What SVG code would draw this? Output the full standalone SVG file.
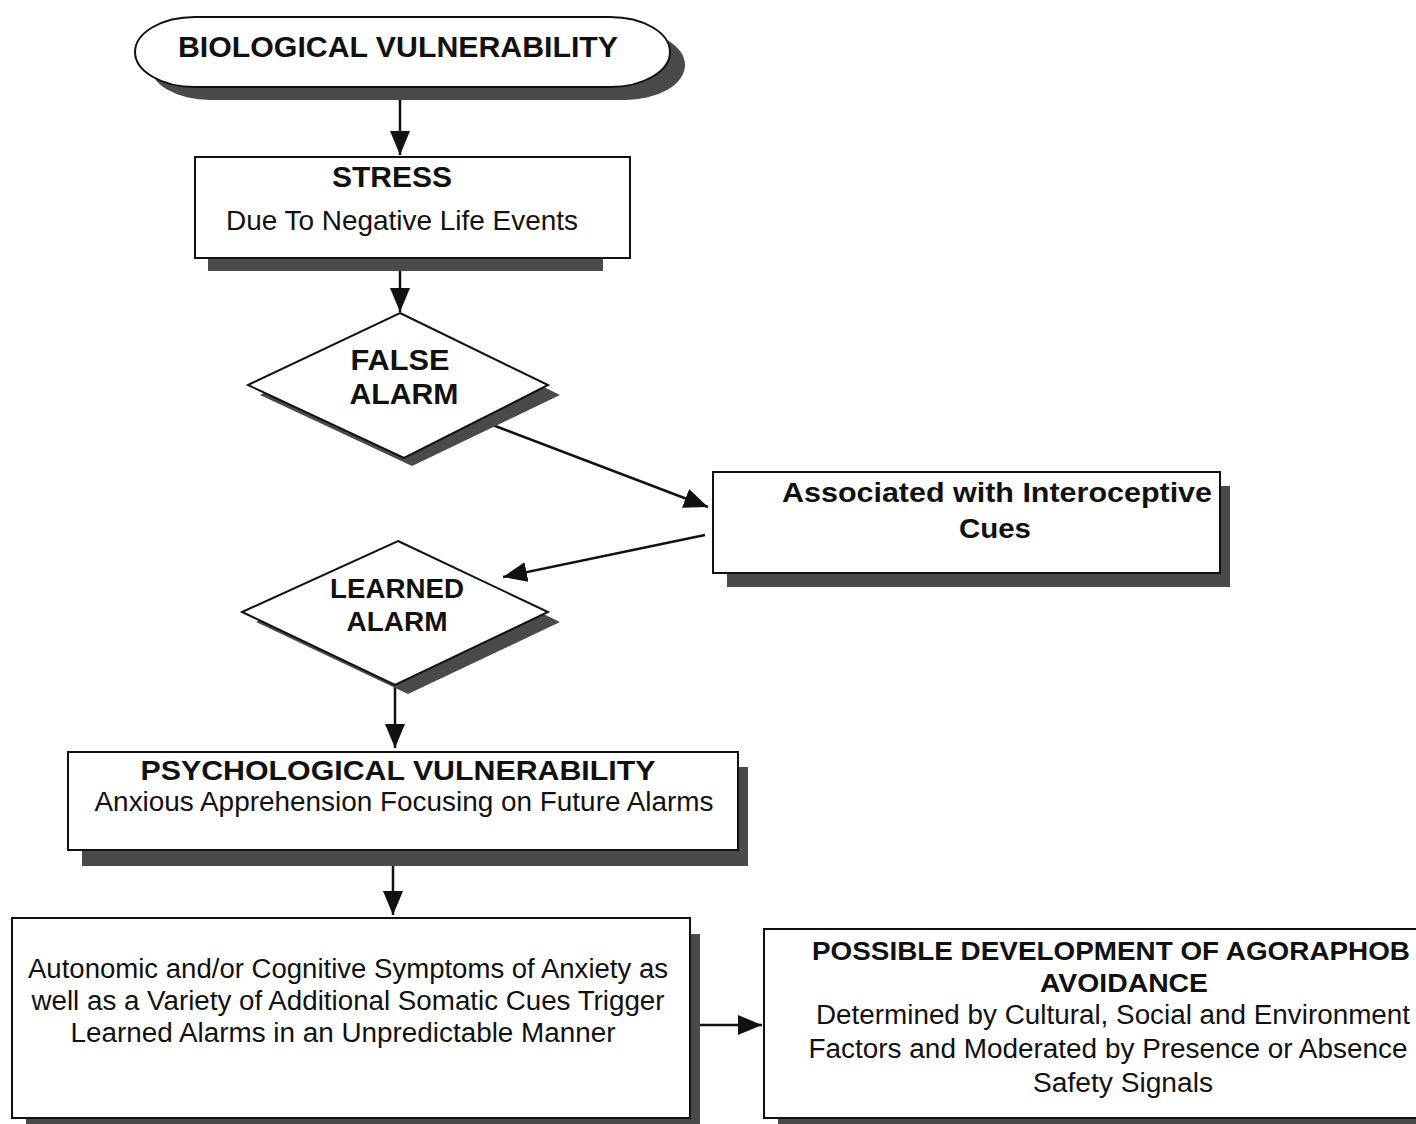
<svg xmlns="http://www.w3.org/2000/svg" width="1416" height="1124" viewBox="0 0 1416 1124">
<style>
.box{fill:#fff;stroke:#111;stroke-width:2}
.sh{fill:#4a4a4a}
.b{font-family:"Liberation Sans",Arial,sans-serif;font-weight:bold;fill:#111;text-anchor:middle}
.r{font-family:"Liberation Sans",Arial,sans-serif;fill:#111;text-anchor:middle}
.c{stroke:#111;stroke-width:2.5;fill:none}
</style>
<defs>
<marker id="ah" markerUnits="userSpaceOnUse" markerWidth="26" markerHeight="22" refX="24" refY="10" orient="auto"><path d="M0,0 L24,10 L0,20 z" fill="#111"/></marker>
</defs>
<rect width="1416" height="1124" fill="#fff"/>
<g id="connectors">
<line class="c" x1="400" y1="88" x2="400" y2="155" marker-end="url(#ah)"/>
<line class="c" x1="400" y1="258" x2="400" y2="312" marker-end="url(#ah)"/>
<line class="c" x1="490" y1="424" x2="708" y2="507" marker-end="url(#ah)"/>
<line class="c" x1="705" y1="535" x2="503" y2="577" marker-end="url(#ah)"/>
<line class="c" x1="395" y1="685" x2="395" y2="748" marker-end="url(#ah)"/>
<line class="c" x1="393" y1="850" x2="393" y2="915" marker-end="url(#ah)"/>
<line class="c" x1="688" y1="1025" x2="762" y2="1025" marker-end="url(#ah)"/>
</g>
<g id="bio">
<rect class="sh" x="150" y="30" width="535" height="70" rx="60" ry="35"/>
<rect class="box" x="135" y="17" width="535" height="70" rx="60" ry="35"/>
<text class="b" x="398" y="57" font-size="29" textLength="440" lengthAdjust="spacingAndGlyphs">BIOLOGICAL VULNERABILITY</text>
</g>
<g id="stress">
<rect class="sh" x="208" y="170" width="395" height="101"/>
<rect class="box" x="195" y="157" width="435" height="101"/>
<text class="b" x="392" y="187" font-size="29" textLength="120" lengthAdjust="spacingAndGlyphs">STRESS</text>
<text class="r" x="402" y="230" font-size="28" textLength="352" lengthAdjust="spacingAndGlyphs">Due To Negative Life Events</text>
</g>
<g id="false">
<polygon class="sh" points="412,322 560,395 412,466 260,395"/>
<polygon class="box" points="400,313 548,385 404,458 248,385"/>
<text class="b" x="400" y="370" font-size="29" textLength="99" lengthAdjust="spacingAndGlyphs">FALSE</text>
<text class="b" x="404" y="404" font-size="29" textLength="109" lengthAdjust="spacingAndGlyphs">ALARM</text>
</g>
<g id="assoc">
<rect class="sh" x="727" y="486" width="503" height="101"/>
<rect class="box" x="713" y="472" width="507" height="101"/>
<text class="b" x="997" y="502" font-size="28" textLength="430" lengthAdjust="spacingAndGlyphs">Associated with Interoceptive</text>
<text class="b" x="995" y="538" font-size="28" textLength="72" lengthAdjust="spacingAndGlyphs">Cues</text>
</g>
<g id="learned">
<polygon class="sh" points="410,550 560,622 408,694 256,622"/>
<polygon class="box" points="398,541 548,612 395,685 242,612"/>
<text class="b" x="397" y="598" font-size="27" textLength="134" lengthAdjust="spacingAndGlyphs">LEARNED</text>
<text class="b" x="397" y="631" font-size="27" textLength="101" lengthAdjust="spacingAndGlyphs">ALARM</text>
</g>
<g id="psych">
<rect class="sh" x="82" y="767" width="666" height="99"/>
<rect class="box" x="68" y="752" width="670" height="98"/>
<text class="b" x="398" y="780" font-size="28" textLength="515" lengthAdjust="spacingAndGlyphs">PSYCHOLOGICAL VULNERABILITY</text>
<text class="r" x="404" y="811" font-size="27" textLength="619" lengthAdjust="spacingAndGlyphs">Anxious Apprehension Focusing on Future Alarms</text>
</g>
<g id="auto">
<rect class="sh" x="26" y="934" width="674" height="200"/>
<rect class="box" x="12" y="918" width="678" height="200"/>
<text class="r" x="348" y="978" font-size="27" textLength="640" lengthAdjust="spacingAndGlyphs">Autonomic and/or Cognitive Symptoms of Anxiety as</text>
<text class="r" x="348" y="1010" font-size="27" textLength="633" lengthAdjust="spacingAndGlyphs">well as a Variety of Additional Somatic Cues Trigger</text>
<text class="r" x="343" y="1042" font-size="27" textLength="545" lengthAdjust="spacingAndGlyphs">Learned Alarms in an Unpredictable Manner</text>
</g>
<g id="possible">
<rect class="sh" x="778" y="944" width="660" height="190"/>
<rect class="box" x="764" y="929" width="670" height="189"/>
<text class="b" x="1111" y="960" font-size="26" textLength="598" lengthAdjust="spacingAndGlyphs">POSSIBLE DEVELOPMENT OF AGORAPHOB</text>
<text class="b" x="1124" y="992" font-size="26" textLength="168" lengthAdjust="spacingAndGlyphs">AVOIDANCE</text>
<text class="r" x="1113" y="1024" font-size="27" textLength="594" lengthAdjust="spacingAndGlyphs">Determined by Cultural, Social and Environment</text>
<text class="r" x="1108" y="1058" font-size="27" textLength="599" lengthAdjust="spacingAndGlyphs">Factors and Moderated by Presence or Absence</text>
<text class="r" x="1123" y="1092" font-size="27" textLength="180" lengthAdjust="spacingAndGlyphs">Safety Signals</text>
</g>
</svg>
